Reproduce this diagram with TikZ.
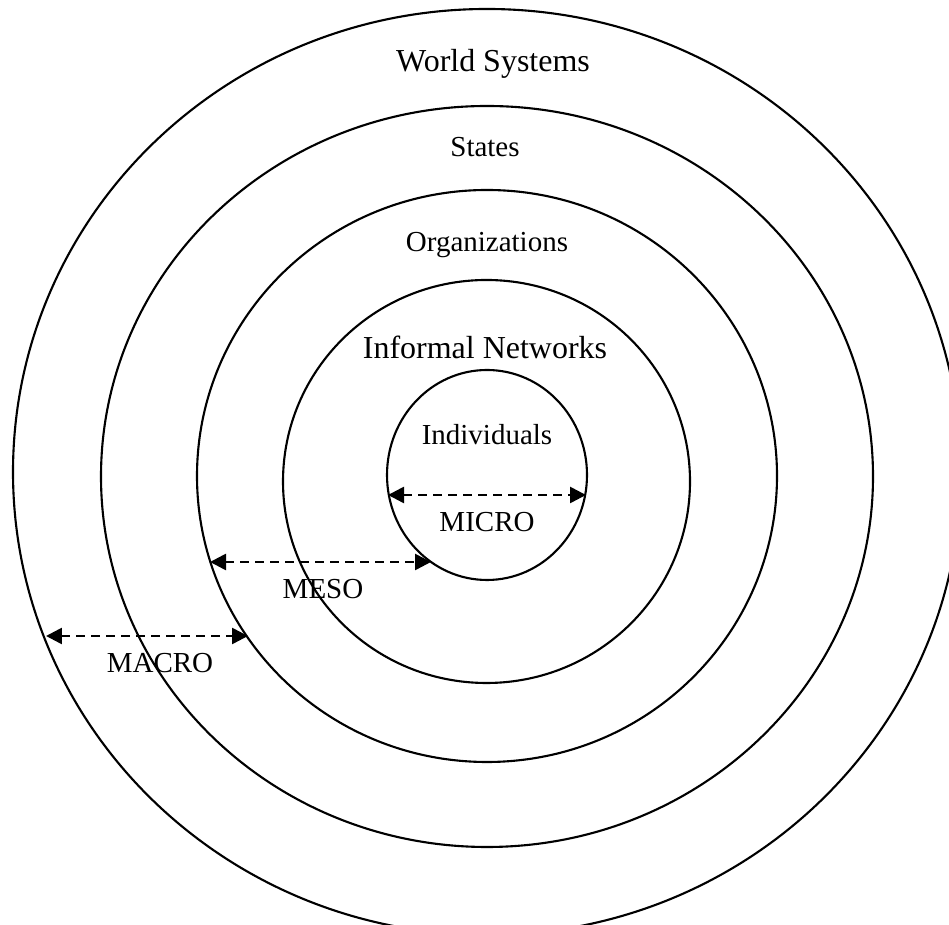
\documentclass[tikz,border=0pt]{standalone}
\usepackage{fontspec}
\setmainfont{Liberation Serif}
\usetikzlibrary{arrows.meta}
\tikzset{
  ring/.style={line width=1.2pt},
  span/.style={line width=1.5pt, dash pattern=on 0.17cm off 0.13cm, {Triangle[length=0.32cm,width=0.32cm]}-{Triangle[length=0.32cm,width=0.32cm]}},
  biglabel/.style={anchor=base, inner sep=0pt, font=\fontsize{18.2}{22}\selectfont},
  label/.style={anchor=base, inner sep=0pt, font=\fontsize{16.5}{20}\selectfont}
}
\begin{document}
\begin{tikzpicture}[x=0.02cm,y=0.02cm]
\useasboundingbox (0,0) rectangle (949,925);
\clip (0,0) rectangle (949,925);
% circles
\draw [ring] (487,453) ellipse [x radius=474, y radius=463];
\draw [ring] (487,448.5) ellipse [x radius=386, y radius=370.5];
\draw [ring] (487,449) ellipse [x radius=290, y radius=286];
\draw [ring] (486.5,443.5) ellipse [x radius=203.5, y radius=201.5];
\draw [ring] (487,450) ellipse [x radius=100, y radius=105];

% arrows
\coordinate (microL) at (388,430);
\coordinate (microR) at (586,430);
\coordinate (mesoL) at (210,363);
\coordinate (mesoR) at (431,363);
\coordinate (macroL) at (46,289);
\coordinate (macroR) at (248,289);
\draw [span] (microL) -- (microR);
\draw [span] (mesoL) -- (mesoR);
\draw [span] (macroL) -- (macroR);

% labels
\node [biglabel] (world) at (493,853) {World Systems};
\node [label] (states) at (485,768) {States};
\node [label] (orgs) at (487,673) {Organizations};
\node [biglabel] (informal) at (485,566) {Informal Networks};
\node [label] (indiv) at (487,480) {Individuals};
\node [label] (micro) at (487,393) {MICRO};
\node [label] (meso) at (323,326) {MESO};
\node [label] (macro) at (160,252) {MACRO};

\end{tikzpicture}
\end{document}
